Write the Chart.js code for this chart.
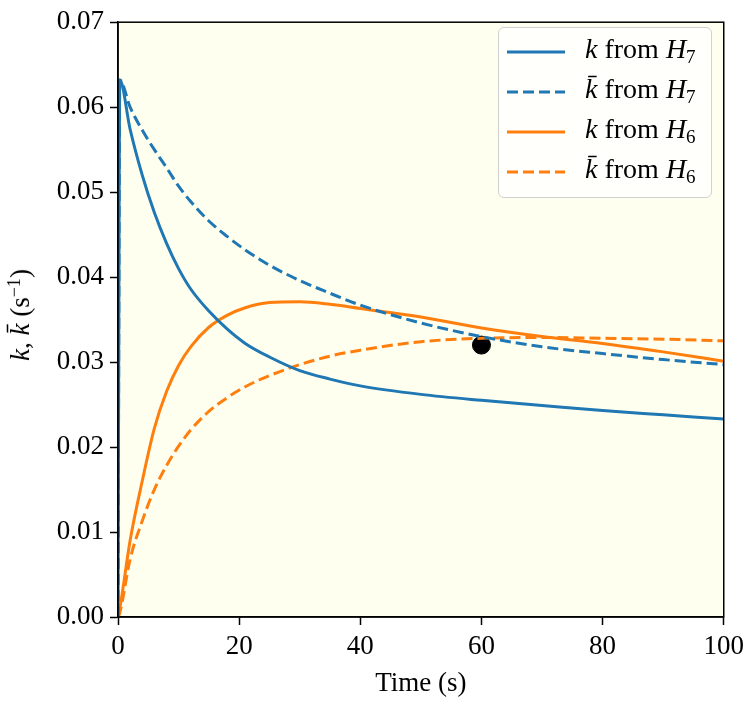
<!DOCTYPE html>
<html>
<head>
<meta charset="utf-8">
<script src="https://cdn.jsdelivr.net/npm/chart.js@4.4.0/dist/chart.umd.min.js"></script>
<style>
  body { margin: 0; background: #fff; }
  #wrap { position: relative; width: 750px; height: 704px; }
  #legend {
    position: absolute; left: 498px; top: 27px; width: 212px; height: 169px;
    border: 1.5px solid #d0d0d0; border-radius: 6px; background: rgba(255,255,255,0.8);
    font-family: "Liberation Serif", "DejaVu Serif", serif; font-size: 28px; color: #000;
  }
  .row { position: absolute; left: 0; height: 40px; width: 212px; }
  .row svg { position: absolute; left: 8px; top: 10px; }
  .row span { position: absolute; left: 86px; top: 1px; white-space: nowrap; }
  .row sub { font-size: 19px; vertical-align: -5px; font-style: normal; }
  #ytitle {
    position: absolute; left: 20px; top: 315px; transform: translate(-50%, -50%) rotate(-90deg);
    font-family: "Liberation Serif", "DejaVu Serif", serif; font-size: 27px; white-space: nowrap;
  }
  #ytitle sup { font-size: 18px; vertical-align: 9px; }
</style>
</head>
<body>
<div id="wrap">
  <canvas id="myChart" width="750" height="704"></canvas>
  <div id="ytitle"><i>k</i>, <i>k̄</i> (s<sup>−1</sup>)</div>
  <div id="legend"></div>
</div>
<script>
// time axis (s)
var timeS = [0, 0.3, 2, 4, 6, 8, 10, 12, 15, 18, 21, 25, 30, 35, 40, 50, 60, 70, 80, 90, 100];

// k and k-bar values (s^-1)
var kH7    = [0, 0.0632, 0.0574, 0.0520, 0.0476, 0.0440, 0.0410, 0.0386, 0.0360, 0.0339, 0.0322, 0.0306, 0.0290, 0.0280, 0.0272, 0.0262, 0.0255, 0.0249, 0.0243, 0.0238, 0.0233];
var kbarH7 = [0, 0.0632, 0.0600, 0.0573, 0.0550, 0.0529, 0.0507, 0.0489, 0.0466, 0.0448, 0.0432, 0.0414, 0.0396, 0.0381, 0.0367, 0.0346, 0.0330, 0.0318, 0.0310, 0.0303, 0.0297];
var kH6    = [0, 0.0010, 0.0090, 0.0160, 0.0222, 0.0265, 0.0296, 0.0318, 0.0341, 0.0355, 0.0364, 0.0370, 0.0371, 0.0368, 0.0363, 0.0353, 0.0340, 0.0330, 0.0322, 0.0312, 0.0301];
var kbarH6 = [0, 0.0005, 0.0068, 0.0113, 0.0150, 0.0178, 0.0201, 0.0220, 0.0242, 0.0258, 0.0271, 0.0284, 0.0297, 0.0307, 0.0314, 0.0324, 0.0328, 0.0329, 0.0328, 0.0327, 0.0325];

// highlighted point
var markerT = [60];
var markerK = [0.032];

var xTicks = [0, 20, 40, 60, 80, 100];
var yTicks = [0, 0.01, 0.02, 0.03, 0.04, 0.05, 0.06, 0.07];

var blue = '#1f77b4';
var orange = '#ff7f0e';

function toPoints(xs, ys) {
    return xs.map(function (x, i) { return { x: x, y: ys[i] }; });
}

var seriesDefs = [
    { label: 'k from H7',    data: kH7,    color: blue,   dash: [] },
    { label: 'kbar from H7', data: kbarH7, color: blue,   dash: [11, 5] },
    { label: 'k from H6',    data: kH6,    color: orange, dash: [] },
    { label: 'kbar from H6', data: kbarH6, color: orange, dash: [11, 5] }
];

var datasets = seriesDefs.map(function (s) {
    return {
        label: s.label,
        data: toPoints(timeS, s.data),
        borderColor: s.color,
        backgroundColor: s.color,
        borderWidth: 3,
        borderDash: s.dash,
        pointRadius: 0,
        cubicInterpolationMode: 'monotone',
        fill: false
    };
});

datasets.push({
    label: 'marker',
    data: toPoints(markerT, markerK),
    showLine: false,
    pointRadius: 9,
    pointBackgroundColor: '#000',
    pointBorderColor: '#000'
});

// plot background and frame
var frame = {
    id: 'frame',
    beforeDraw: function (chart) {
        var a = chart.chartArea, ctx = chart.ctx;
        ctx.save();
        ctx.fillStyle = '#fffff0';
        ctx.fillRect(a.left, a.top, a.right - a.left, a.bottom - a.top);
        ctx.restore();
    },
    afterDraw: function (chart) {
        var a = chart.chartArea, ctx = chart.ctx;
        ctx.save();
        ctx.strokeStyle = '#000';
        ctx.lineWidth = 1.5;
        ctx.strokeRect(a.left, a.top, a.right - a.left, a.bottom - a.top);
        ctx.restore();
    }
};

var tickFont = { family: '"Liberation Serif", "DejaVu Serif", serif', size: 27 };

var ctx = document.getElementById('myChart').getContext('2d');
var kChart = new Chart(ctx, {
    type: 'line',
    data: { datasets: datasets },
    plugins: [frame],
    options: {
        responsive: false,
        animation: false,
        devicePixelRatio: 1,
        layout: { padding: { top: 13, right: 25, left: 0, bottom: 0 } },
        plugins: { legend: { display: false }, tooltip: { enabled: false } },
        scales: {
            x: {
                type: 'linear', min: 0, max: 100,
                afterBuildTicks: function (scale) { scale.ticks = xTicks.map(function (v) { return { value: v }; }); },
                afterFit: function (scale) { scale.height = 87; },
                ticks: { color: '#000', font: tickFont, padding: 6, maxRotation: 0 },
                grid: { drawOnChartArea: false, drawTicks: true, tickLength: 8, color: '#000', tickWidth: 1.5 },
                border: { display: true, color: '#000', width: 1.5 },
                title: { display: true, text: 'Time (s)', color: '#000', font: tickFont, padding: { top: 4 } }
            },
            y: {
                type: 'linear', min: 0, max: 0.07,
                afterBuildTicks: function (scale) { scale.ticks = yTicks.map(function (v) { return { value: v }; }); },
                afterFit: function (scale) { scale.width = 118; },
                ticks: { color: '#000', font: tickFont, padding: 6, callback: function (v) { return v.toFixed(2); } },
                grid: { drawOnChartArea: false, drawTicks: true, tickLength: 8, color: '#000', tickWidth: 1.5 },
                border: { display: true, color: '#000', width: 1.5 }
            }
        }
    }
});

// legend with math-style labels
var legendRows = [
    { sym: 'k',  sub: '7', color: blue,   dash: '' },
    { sym: 'k̄', sub: '7', color: blue,   dash: '11 5' },
    { sym: 'k',  sub: '6', color: orange, dash: '' },
    { sym: 'k̄', sub: '6', color: orange, dash: '11 5' }
];

var legendBox = document.getElementById('legend');
legendRows.forEach(function (r, i) {
    var row = document.createElement('div');
    row.className = 'row';
    row.style.top = (4 + i * 40) + 'px';
    row.innerHTML = '<svg width="60" height="20"><line x1="0" y1="10" x2="58" y2="10" stroke="' + r.color +
        '" stroke-width="3" stroke-dasharray="' + r.dash + '"/></svg>' +
        '<span><i>' + r.sym + '</i> from <i>H</i><sub>' + r.sub + '</sub></span>';
    legendBox.appendChild(row);
});
</script>
</body>
</html>
